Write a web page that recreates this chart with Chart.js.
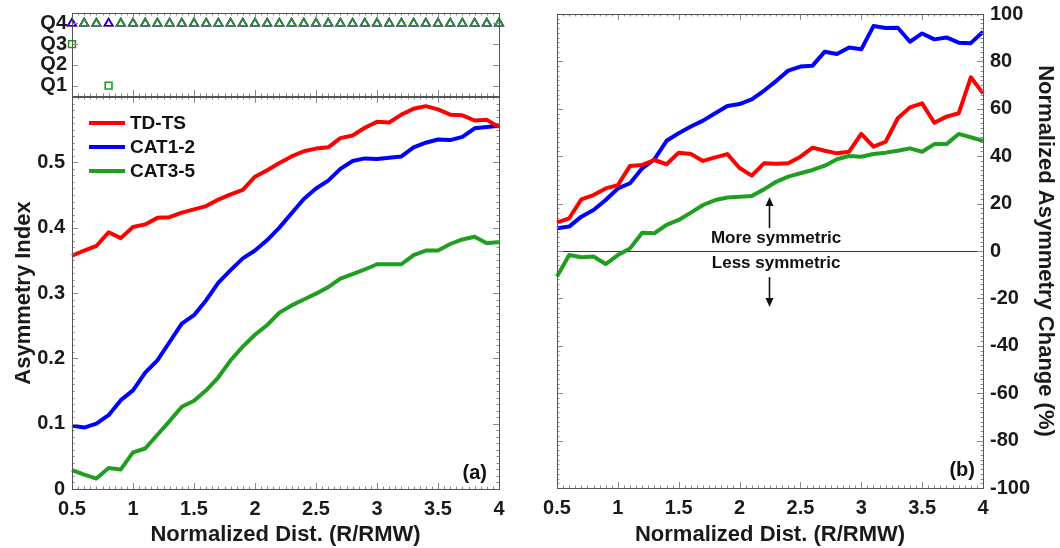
<!DOCTYPE html>
<html>
<head>
<meta charset="utf-8">
<style>
  html, body { margin: 0; padding: 0; background: #ffffff; }
  #wrap { position: relative; width: 1060px; height: 548px; overflow: hidden; }
  #wrap canvas { position: absolute; left: 0; top: 0; }
</style>
<script src="https://cdn.jsdelivr.net/npm/chart.js@4.4.1/dist/chart.umd.min.js"></script>
</head>
<body>
<div id="wrap">
  <canvas id="cq" width="1060" height="548"></canvas>
  <canvas id="ca" width="1060" height="548"></canvas>
  <canvas id="cb" width="1060" height="548"></canvas>
</div>
<script>
// ---------------- DATA ----------------
const dist = [0.5,0.6,0.7,0.8,0.9,1.0,1.1,1.2,1.3,1.4,1.5,1.6,1.7,1.8,1.9,2.0,2.1,2.2,2.3,2.4,
              2.5,2.6,2.7,2.8,2.9,3.0,3.1,3.2,3.3,3.4,3.5,3.6,3.7,3.8,3.9,4.0];
const seriesNames = ['TD-TS', 'CAT1-2', 'CAT3-5'];

// (a) Asymmetry index
const asymTDTS  = [0.357,0.365,0.372,0.393,0.384,0.401,0.405,0.415,0.416,0.423,0.428,0.433,0.443,0.451,0.458,0.478,0.488,0.499,0.509,0.517,
                   0.521,0.523,0.537,0.541,0.553,0.562,0.561,0.573,0.582,0.586,0.581,0.573,0.572,0.564,0.565,0.554];
const asymCAT12 = [0.097,0.094,0.100,0.113,0.136,0.151,0.178,0.197,0.225,0.253,0.266,0.289,0.316,0.335,0.353,0.365,0.381,0.400,0.422,0.444,
                   0.460,0.472,0.490,0.502,0.506,0.505,0.507,0.509,0.523,0.530,0.535,0.534,0.539,0.552,0.554,0.556];
const asymCAT35 = [0.029,0.022,0.016,0.032,0.030,0.056,0.062,0.083,0.104,0.126,0.135,0.151,0.171,0.197,0.218,0.236,0.251,0.270,0.281,0.290,
                   0.299,0.309,0.322,0.329,0.336,0.344,0.344,0.344,0.358,0.365,0.365,0.375,0.382,0.386,0.376,0.378];

// (b) Normalized asymmetry change (%)
const changeTDTS  = [12.0,13.8,21.8,23.6,26.4,27.8,35.9,36.3,38.4,36.6,41.5,40.9,38.0,39.5,40.9,35.0,31.8,37.0,36.8,37.0,
                     39.8,43.6,42.3,41.2,41.9,49.4,44.0,46.1,56.0,60.6,62.3,54.1,56.7,58.1,73.3,66.5];
const changeCAT12 = [9.6,10.3,14.5,17.3,21.5,26.4,28.6,34.9,38.7,46.5,49.7,52.5,55.0,58.1,61.2,62.0,64.0,67.6,71.7,76.1,
                     77.8,78.2,84.1,83.1,85.9,85.1,94.9,94.1,94.2,88.3,91.8,89.3,90.1,87.9,87.7,92.5];
const changeCAT35 = [-10.8,-1.7,-2.6,-2.3,-5.5,-1.7,1.1,7.7,7.5,11.0,13.1,16.2,19.4,21.5,22.6,22.9,23.2,26.0,29.2,31.4,
                     32.8,34.2,36.0,38.7,40.1,39.8,40.9,41.5,42.3,43.3,41.9,45.1,45.1,49.4,48.0,46.5];

// Quartile of each point (top strip)
const quartTDTS  = [4,4,4,4,4,4,4,4,4,4,4,4,4,4,4,4,4,4,4,4,4,4,4,4,4,4,4,4,4,4,4,4,4,4,4,4];
const quartCAT12 = [4,4,4,4,4,4,4,4,4,4,4,4,4,4,4,4,4,4,4,4,4,4,4,4,4,4,4,4,4,4,4,4,4,4,4,4];
const quartCAT35 = [3,4,4,1,4,4,4,4,4,4,4,4,4,4,4,4,4,4,4,4,4,4,4,4,4,4,4,4,4,4,4,4,4,4,4,4];

// Tick labels
const xTickVals   = [0.5,1,1.5,2,2.5,3,3.5,4];
const asymTicks   = [0,0.1,0.2,0.3,0.4,0.5];
const changeTicks = [-100,-80,-60,-40,-20,0,20,40,60,80,100];
const quartTicks  = [1,2,3,4];
const quartLabels = ['Q1','Q2','Q3','Q4'];

// Annotation texts (panel b)
const upText = 'More symmetric';
const downText = 'Less symmetric';

// ---------------- STYLE ----------------
const FAMILY = "'Liberation Sans', Arial, Helvetica, sans-serif";
Chart.defaults.font.family = FAMILY;
Chart.defaults.color = '#1a1a1a';
const colors = ['#ff0000', '#0000ff', '#1f9e1f'];
const FONT_TICK  = {family: FAMILY, size: 20, weight: 'bold'};
const FONT_TITLE = {family: FAMILY, size: 22, weight: 'bold'};
const NO_GRID = {display: false, drawTicks: false, tickLength: 0};
function fixSize(s, w, h) {
  if (w != null) s.width = w;
  if (h != null) s.height = h;
  s.paddingTop = 0; s.paddingBottom = 0; s.paddingLeft = 0; s.paddingRight = 0;
}

// ---------------- PLUGINS ----------------
function range(min, max, step) {
  const n = Math.round((max - min) / step);
  const out = [];
  for (let i = 0; i <= n; i++) out.push(min + i * step);
  return out;
}
const framePlugin = {
  id: 'frameTicks',
  afterDraw(chart, args, o) {
    const {ctx, chartArea: a} = chart;
    const xs = chart.scales.x, ys = chart.scales.y;
    ctx.save();
    ctx.lineWidth = 1;
    ctx.strokeStyle = o.tickColor;
    ctx.beginPath();
    const drawX = (vals, len) => vals.forEach(v => {
      const p = Math.round(xs.getPixelForValue(v)) + 0.5;
      ctx.moveTo(p, a.bottom); ctx.lineTo(p, a.bottom - len);
      ctx.moveTo(p, a.top); ctx.lineTo(p, a.top + len);
    });
    const drawY = (vals, len) => vals.forEach(v => {
      const p = Math.round(ys.getPixelForValue(v)) + 0.5;
      ctx.moveTo(a.left, p); ctx.lineTo(a.left + len, p);
      ctx.moveTo(a.right, p); ctx.lineTo(a.right - len, p);
    });
    if (o.xMinorStep) drawX(range(xs.min, xs.max, o.xMinorStep), 2.5);
    if (o.yMinorStep) drawY(range(ys.min, ys.max, o.yMinorStep), 2.5);
    drawX(o.xMajor, 6);
    drawY(o.yMajor, 6);
    ctx.stroke();
    ctx.strokeStyle = o.frameColor;
    ctx.strokeRect(Math.round(a.left) + 0.5, Math.round(a.top) + 0.5,
                   Math.round(a.right - a.left), Math.round(a.bottom - a.top));
    ctx.restore();
  }
};
const panelLabel = {
  id: 'panelLabel',
  afterDraw(chart, args, o) {
    if (!o.text) return;
    const {ctx, chartArea: a} = chart;
    ctx.save();
    ctx.font = 'bold 20px ' + FAMILY;
    ctx.fillStyle = '#111';
    ctx.textAlign = 'right';
    ctx.textBaseline = 'middle';
    ctx.fillText(o.text, a.right - o.dx, a.bottom - o.dy);
    ctx.restore();
  }
};
const insideLegend = {
  id: 'insideLegend',
  afterDraw(chart, args, o) {
    if (!o.show) return;
    const {ctx, chartArea: a} = chart;
    ctx.save();
    ctx.font = 'bold 19px ' + FAMILY;
    ctx.textBaseline = 'middle';
    ctx.textAlign = 'left';
    chart.data.datasets.forEach((ds, i) => {
      const y = a.top + o.y0 + i * o.dy;
      ctx.strokeStyle = ds.borderColor;
      ctx.lineWidth = 4;
      ctx.beginPath();
      ctx.moveTo(a.left + o.x0, y);
      ctx.lineTo(a.left + o.x1, y);
      ctx.stroke();
      ctx.fillStyle = '#111';
      ctx.fillText(ds.label, a.left + o.tx, y + 1);
    });
    ctx.restore();
  }
};
const annotPlugin = {
  id: 'annot',
  beforeDatasetsDraw(chart, args, o) {
    if (!o.show) return;
    const {ctx, chartArea: a, scales: {y}} = chart;
    const y0 = Math.round(y.getPixelForValue(0)) + 0.5;
    ctx.save();
    ctx.strokeStyle = '#333';
    ctx.lineWidth = 1;
    ctx.beginPath(); ctx.moveTo(a.left, y0); ctx.lineTo(a.right, y0); ctx.stroke();
    ctx.restore();
  },
  afterDatasetsDraw(chart, args, o) {
    if (!o.show) return;
    const {ctx, scales: {x, y}} = chart;
    ctx.save();
    ctx.fillStyle = '#111';
    ctx.font = 'bold 17px ' + FAMILY;
    ctx.textAlign = 'center';
    ctx.textBaseline = 'middle';
    const tx = x.getPixelForValue(o.textX);
    ctx.fillText(upText, tx, y.getPixelForValue(o.upTextY));
    ctx.fillText(downText, tx, y.getPixelForValue(o.downTextY));
    const ax = Math.round(x.getPixelForValue(o.arrowX)) + 0.5;
    const arrow = (from, to) => {
      const p0 = y.getPixelForValue(from), p1 = y.getPixelForValue(to);
      const dir = p1 < p0 ? -1 : 1;
      ctx.strokeStyle = '#111';
      ctx.lineWidth = 1.6;
      ctx.beginPath(); ctx.moveTo(ax, p0); ctx.lineTo(ax, p1 - dir * 4); ctx.stroke();
      ctx.beginPath();
      ctx.moveTo(ax, p1);
      ctx.lineTo(ax - 4, p1 - dir * 9);
      ctx.lineTo(ax + 4, p1 - dir * 9);
      ctx.closePath();
      ctx.fill();
    };
    arrow(o.upFrom, o.upTo);
    arrow(o.downFrom, o.downTo);
    ctx.restore();
  }
};

// ---------------- HELPERS ----------------
const common = {
  responsive: false,
  animation: false,
  events: [],
};
function lineDs(label, values, color) {
  return {
    label: label,
    data: dist.map((d, i) => ({x: d, y: values[i]})),
    borderColor: color,
    backgroundColor: color,
    borderWidth: 4,
    pointRadius: 0,
    tension: 0,
    fill: false,
    borderJoinStyle: 'round',
    clip: 3
  };
}
function quartDs(label, values, color, order) {
  return {
    label: label,
    data: dist.map((d, i) => ({x: d, y: values[i]})),
    showLine: false,
    borderColor: color,
    backgroundColor: 'rgba(0,0,0,0)',
    pointBorderColor: color,
    pointBackgroundColor: 'rgba(0,0,0,0)',
    pointBorderWidth: 1.6,
    pointRadius: 4.8,
    pointStyle: ctx => (ctx.raw && ctx.raw.y === 4 ? 'triangle' : 'rect'),
    order: order,
    clip: false
  };
}
function xScale(height) {
  return {
    type: 'linear', min: 0.5, max: 4,
    afterBuildTicks: s => { s.ticks = xTickVals.map(v => ({value: v})); },
    ticks: {callback: v => String(v), font: FONT_TICK, padding: 8, maxRotation: 0, autoSkip: false, color: '#1a1a1a'},
    grid: NO_GRID,
    border: {display: false},
    title: {display: true, text: 'Normalized Dist. (R/RMW)', font: FONT_TITLE, color: '#1a1a1a', padding: {top: 0, bottom: 0}},
    afterFit: s => fixSize(s, null, height)
  };
}

// ---------------- TOP STRIP (quartiles) ----------------
new Chart(document.getElementById('cq'), {
  type: 'line',
  data: {datasets: [
    quartDs(seriesNames[0], quartTDTS, colors[0], 3),
    quartDs(seriesNames[1], quartCAT12, colors[1], 2),
    quartDs(seriesNames[2], quartCAT35, colors[2], 1)
  ]},
  options: Object.assign({}, common, {
    layout: {padding: {left: 22, top: 13, right: 561, bottom: 452}},
    scales: {
      x: {type: 'linear', min: 0.5, max: 4, display: false},
      y: {
        type: 'linear', min: 0.5, max: 4.5,
        afterBuildTicks: s => { s.ticks = quartTicks.map(v => ({value: v})); },
        ticks: {callback: v => quartLabels[quartTicks.indexOf(v)], font: FONT_TICK, padding: 5, color: '#1a1a1a'},
        grid: NO_GRID,
        border: {display: false},
        afterFit: s => fixSize(s, 50, null)
      }
    },
    plugins: {
      legend: {display: false},
      tooltip: {enabled: false},
      frameTicks: {xMajor: xTickVals, yMajor: quartTicks, xMinorStep: 0.05, yMinorStep: 0, tickColor: '#8a8a8a', frameColor: '#555'}
    }
  }),
  plugins: [framePlugin]
});

// ---------------- PANEL (a) ----------------
new Chart(document.getElementById('ca'), {
  type: 'line',
  data: {datasets: [
    lineDs(seriesNames[0], asymTDTS, colors[0]),
    lineDs(seriesNames[1], asymCAT12, colors[1]),
    lineDs(seriesNames[2], asymCAT35, colors[2])
  ]},
  options: Object.assign({}, common, {
    layout: {padding: {left: 10, top: 97, right: 561, bottom: 0}},
    scales: {
      x: xScale(59),
      y: {
        type: 'linear', min: 0, max: 0.6,
        afterBuildTicks: s => { s.ticks = asymTicks.map(v => ({value: v})); },
        ticks: {callback: v => String(v), font: FONT_TICK, padding: 7, color: '#1a1a1a'},
        grid: NO_GRID,
        border: {display: false},
        title: {display: true, text: 'Asymmetry Index', font: FONT_TITLE, color: '#1a1a1a', padding: {top: 1, bottom: 0}},
        afterFit: s => fixSize(s, 62, null)
      }
    },
    plugins: {
      legend: {display: false},
      tooltip: {enabled: false},
      frameTicks: {xMajor: xTickVals, yMajor: asymTicks, xMinorStep: 0.05, yMinorStep: 0.01, tickColor: '#8a8a8a', frameColor: '#555'},
      panelLabel: {text: '(a)', dx: 12, dy: 16},
      insideLegend: {show: true, x0: 17, x1: 53, tx: 58, y0: 26, dy: 24}
    }
  }),
  plugins: [framePlugin, panelLabel, insideLegend]
});

// ---------------- PANEL (b) ----------------
new Chart(document.getElementById('cb'), {
  type: 'line',
  data: {datasets: [
    lineDs(seriesNames[0], changeTDTS, colors[0]),
    lineDs(seriesNames[1], changeCAT12, colors[1]),
    lineDs(seriesNames[2], changeCAT35, colors[2])
  ]},
  options: Object.assign({}, common, {
    layout: {padding: {left: 557, top: 14, right: 0, bottom: 0}},
    scales: {
      x: xScale(60),
      y: {
        type: 'linear', position: 'right', min: -100, max: 100,
        afterBuildTicks: s => { s.ticks = changeTicks.map(v => ({value: v})); },
        ticks: {callback: v => String(v), font: FONT_TICK, padding: 7, color: '#1a1a1a'},
        grid: NO_GRID,
        border: {display: false},
        title: {display: true, text: 'Normalized Asymmetry Change (%)', font: FONT_TITLE, color: '#1a1a1a', padding: {top: 2, bottom: 0}},
        afterFit: s => fixSize(s, 77, null)
      }
    },
    plugins: {
      legend: {display: false},
      tooltip: {enabled: false},
      frameTicks: {xMajor: xTickVals, yMajor: changeTicks, xMinorStep: 0.05, yMinorStep: 2, tickColor: '#8a8a8a', frameColor: '#555'},
      panelLabel: {text: '(b)', dx: 8, dy: 18},
      annot: {show: true, textX: 2.30, upTextY: 5.5, downTextY: -5.1, arrowX: 2.24, upFrom: 9.7, upTo: 22.8, downFrom: -11, downTo: -23.6}
    }
  }),
  plugins: [framePlugin, panelLabel, annotPlugin]
});
</script>
</body>
</html>
